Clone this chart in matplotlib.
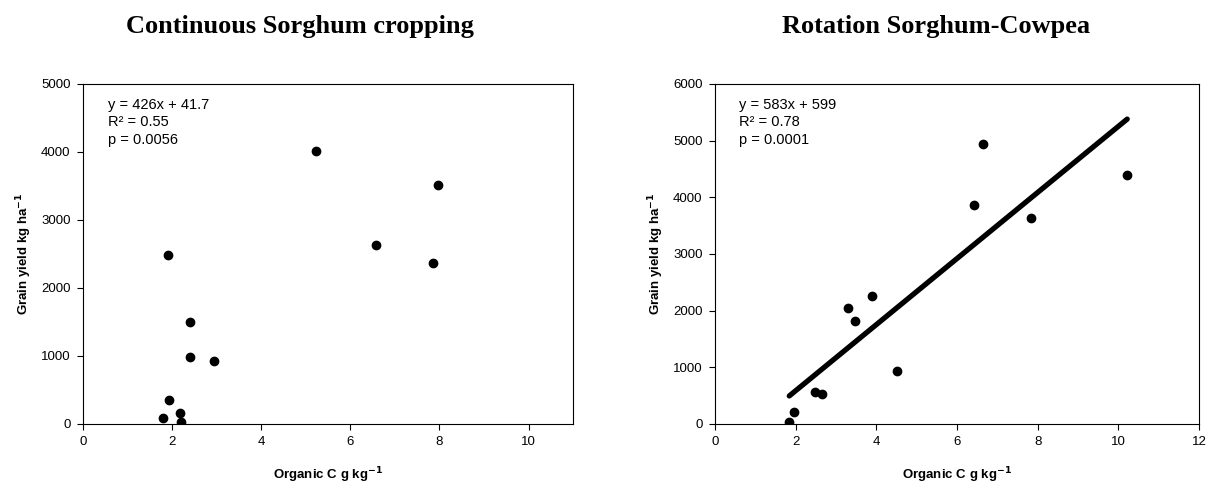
import numpy as np
import matplotlib
matplotlib.use("Agg")
import matplotlib.pyplot as plt

# Continuous sorghum cropping: organic C (g/kg) vs grain yield (kg/ha)
cont_c = [1.91, 5.22, 7.96, 6.58, 7.86, 2.41, 2.41, 2.94, 1.94, 1.79, 2.18, 2.19]
cont_yield = [2490, 4020, 3517, 2629, 2361, 1502, 985, 927, 356, 83, 161, 34]
cont_stats = ["y = 426x + 41.7", "R\u00b2 = 0.55", "p = 0.0056"]

# Rotation sorghum-cowpea
rot_c = [6.64, 10.22, 6.42, 7.84, 3.89, 3.29, 3.47, 4.51, 2.49, 2.64, 1.95, 1.84]
rot_yield = [4936, 4398, 3871, 3637, 2251, 2041, 1825, 942, 556, 538, 216, 35]
rot_stats = ["y = 583x + 599", "R\u00b2 = 0.78", "p = 0.0001"]

titles = ["Continuous Sorghum cropping", "Rotation Sorghum-Cowpea"]

plt.rcParams['font.family'] = ['Liberation Sans', 'DejaVu Sans']

fig = plt.figure(figsize=(12.19, 4.9), dpi=100)
ax1 = fig.add_axes([0.0681, 0.1347, 0.402, 0.694])
ax2 = fig.add_axes([0.5866, 0.1347, 0.397, 0.694])


def style_axis(ax, xmax, ymax, ystep):
    ax.set_xlim(0, xmax)
    ax.set_ylim(0, ymax)
    ax.set_xticks(np.arange(0, xmax + 0.1, 2))
    ax.set_yticks(np.arange(0, ymax + 1, ystep))
    ax.tick_params(labelsize=9.5, length=4, width=0.8, direction='out', pad=5)
    for s in ax.spines.values():
        s.set_linewidth(0.8)
    ax.set_xlabel("Organic C g kg$^{\\mathbf{-1}}$", fontsize=9.5, fontweight='bold', labelpad=12)
    ax.set_ylabel("Grain yield kg ha$^{\\mathbf{-1}}$", fontsize=9.5, fontweight='bold', labelpad=5)


style_axis(ax1, 11, 5000, 1000)
style_axis(ax2, 12, 6000, 1000)

ax1.plot(cont_c, cont_yield, 'o', color='black', markersize=6)
ax2.plot(rot_c, rot_yield, 'o', color='black', markersize=6)

# fitted line for the rotation data
slope, icpt = np.polyfit(rot_c, rot_yield, 1)
xs = np.array([min(rot_c), max(rot_c)])
ax2.plot(xs, slope * xs + icpt, color='black', linewidth=3.8, solid_capstyle='round')

for ax, stats in [(ax1, cont_stats), (ax2, rot_stats)]:
    ax.text(0.05, 0.96, "\n".join(stats), transform=ax.transAxes, fontsize=10.5,
            va='top', ha='left', linespacing=1.35)

fig.text(0.246, 0.945, titles[0], fontsize=19, fontweight='bold',
         family=['Liberation Serif'], ha='center', va='center')
fig.text(0.768, 0.945, titles[1], fontsize=19, fontweight='bold',
         family=['Liberation Serif'], ha='center', va='center')

fig.savefig("out.png", dpi=100)
